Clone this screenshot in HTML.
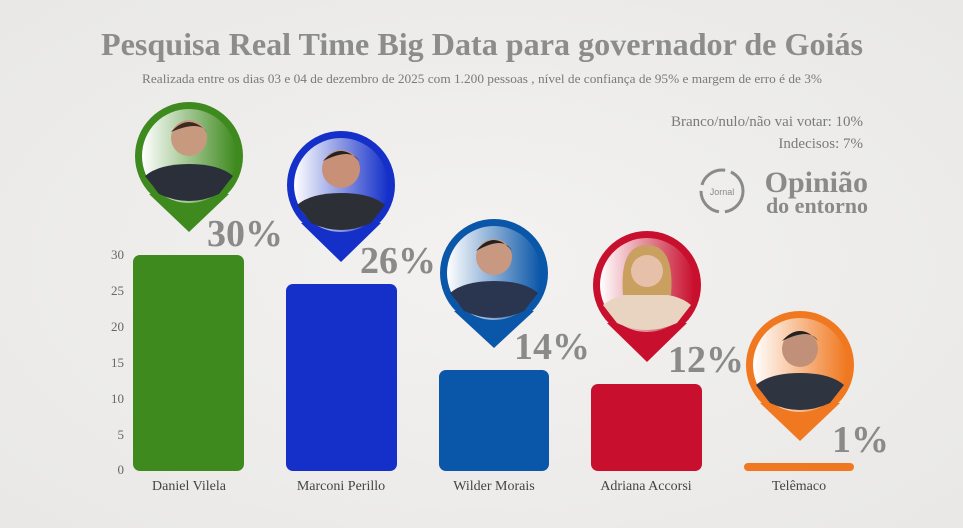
<!DOCTYPE html>
<html><head><meta charset="utf-8"><style>
html,body{margin:0;padding:0;background:#f0efed;}
svg{display:block}
</style></head><body>
<svg width="963" height="528" viewBox="0 0 963 528" xmlns="http://www.w3.org/2000/svg">
<defs>
<radialGradient id="bg" cx="50%" cy="50%" r="70%"><stop offset="0" stop-color="#f3f2f0"/><stop offset="1" stop-color="#e9e8e6"/></radialGradient>
<linearGradient id="g1" x1="0" x2="1"><stop offset="0" stop-color="#fff"/><stop offset="1" stop-color="#3f8a1f"/></linearGradient>
<linearGradient id="g2" x1="0" x2="1"><stop offset="0" stop-color="#fff"/><stop offset="1" stop-color="#1530c8"/></linearGradient>
<linearGradient id="g3" x1="0" x2="1"><stop offset="0" stop-color="#fff"/><stop offset="1" stop-color="#0a56a8"/></linearGradient>
<linearGradient id="g4" x1="0" x2="1"><stop offset="0" stop-color="#fff"/><stop offset="1" stop-color="#c8102e"/></linearGradient>
<linearGradient id="g5" x1="0" x2="1"><stop offset="0" stop-color="#fff"/><stop offset="1" stop-color="#f07820"/></linearGradient>
</defs>
<rect width="963" height="528" fill="url(#bg)"/>
<g font-family="Liberation Serif, serif" fill="#8a8a8a">
<text x="482" y="55" text-anchor="middle" font-size="32" font-weight="bold" fill="#8c8c8c" textLength="762" lengthAdjust="spacingAndGlyphs">Pesquisa Real Time Big Data para governador de Goiás</text>
<text x="482" y="83" text-anchor="middle" font-size="12.5" fill="#7a7a7a" textLength="680" lengthAdjust="spacingAndGlyphs">Realizada entre os dias 03 e 04 de dezembro de 2025 com 1.200 pessoas , nível de confiança de 95% e margem de erro é de 3%</text>
<text x="863" y="126" text-anchor="end" font-size="15" fill="#7a7a7a">Branco/nulo/não vai votar: 10%</text>
<text x="863" y="148" text-anchor="end" font-size="15" fill="#7a7a7a">Indecisos: 7%</text>
<text x="868" y="192" text-anchor="end" font-size="30" font-weight="bold" fill="#8a8a8a">Opinião</text>
<text x="868" y="213" text-anchor="end" font-size="22" font-weight="bold" fill="#8a8a8a">do entorno</text>
<circle cx="722" cy="191" r="21" fill="none" stroke="#8a8a8a" stroke-width="3" stroke-dasharray="30 6"/>
<text x="722" y="195" text-anchor="middle" font-size="9" font-family="Liberation Sans, sans-serif" fill="#8a8a8a">Jornal</text>
<g font-size="13" fill="#666" text-anchor="end">
<text x="124" y="474">0</text><text x="124" y="439">5</text><text x="124" y="403">10</text>
<text x="124" y="367">15</text><text x="124" y="331">20</text><text x="124" y="295">25</text><text x="124" y="259">30</text>
</g>
<g font-size="14" fill="#444" text-anchor="middle">
<text x="189" y="490">Daniel Vilela</text><text x="341" y="490">Marconi Perillo</text>
<text x="494" y="490">Wilder Morais</text><text x="646" y="490">Adriana Accorsi</text><text x="799" y="490">Telêmaco</text>
</g>
</g>
<rect x="133" y="255" width="111" height="216" rx="7" fill="#3f8a1f"/>
<rect x="286" y="284" width="111" height="187" rx="7" fill="#1530c8"/>
<rect x="439" y="370" width="110" height="101" rx="7" fill="#0a56a8"/>
<rect x="591" y="384" width="111" height="87" rx="7" fill="#c8102e"/>
<rect x="744" y="463" width="110" height="8" rx="4" fill="#f07820"/>
<g>
<g transform="translate(189,156)"><path d="M-40,38 L0,76 L40,38Z" fill="#3f8a1f"/><circle r="54" fill="#3f8a1f"/><circle r="47" fill="url(#g1)"/><path d="M-44,20 Q-30,8 0,8 Q30,8 44,20 L30,38 Q0,52 -30,38Z" fill="#2a2f3a"/><circle cx="0" cy="-18" r="18" fill="#c79a80"/><path d="M-18,-24 Q0,-44 18,-24 Q10,-36 -18,-24Z" fill="#3a2a20"/></g>
<g transform="translate(341,185)"><path d="M-40,38 L0,77 L40,38Z" fill="#1530c8"/><circle r="54" fill="#1530c8"/><circle r="47" fill="url(#g2)"/><path d="M-44,20 Q-30,8 0,8 Q30,8 44,20 L30,38 Q0,52 -30,38Z" fill="#2d2f36"/><circle cx="0" cy="-16" r="19" fill="#c99078"/><path d="M-18,-24 Q0,-44 18,-24 Q10,-38 -18,-24Z" fill="#222"/></g>
<g transform="translate(494,273)"><path d="M-40,38 L0,75 L40,38Z" fill="#0a56a8"/><circle r="54" fill="#0a56a8"/><circle r="47" fill="url(#g3)"/><path d="M-44,20 Q-30,8 0,8 Q30,8 44,20 L30,38 Q0,52 -30,38Z" fill="#2a3550"/><circle cx="0" cy="-16" r="18" fill="#c89880"/><path d="M-18,-22 Q0,-44 18,-22 Q10,-38 -18,-22Z" fill="#222"/></g>
<g transform="translate(647,285)"><path d="M-40,38 L0,77 L40,38Z" fill="#c8102e"/><circle r="54" fill="#c8102e"/><circle r="47" fill="url(#g4)"/><path d="M-44,20 Q-30,8 0,8 Q30,8 44,20 L30,38 Q0,52 -30,38Z" fill="#e8d4c0"/><path d="M-24,10 Q-28,-40 0,-40 Q28,-40 24,10Z" fill="#c9a060"/><circle cx="0" cy="-14" r="16" fill="#e6c0a8"/></g>
<g transform="translate(800,365)"><path d="M-40,38 L0,76 L40,38Z" fill="#f07820"/><circle r="54" fill="#f07820"/><circle r="47" fill="url(#g5)"/><path d="M-44,20 Q-30,8 0,8 Q30,8 44,20 L30,38 Q0,52 -30,38Z" fill="#2e3440"/><circle cx="0" cy="-16" r="18" fill="#c09078"/><path d="M-18,-24 Q0,-44 18,-24 Q10,-38 -18,-24Z" fill="#222"/></g>
</g>
<g font-family="Liberation Serif, serif" font-size="38" font-weight="bold" fill="#8a8a8a">
<text x="207" y="246">30%</text>
<text x="360" y="273">26%</text>
<text x="514" y="359">14%</text>
<text x="668" y="372">12%</text>
<text x="832" y="452">1%</text>
</g>
</svg>
</body></html>
